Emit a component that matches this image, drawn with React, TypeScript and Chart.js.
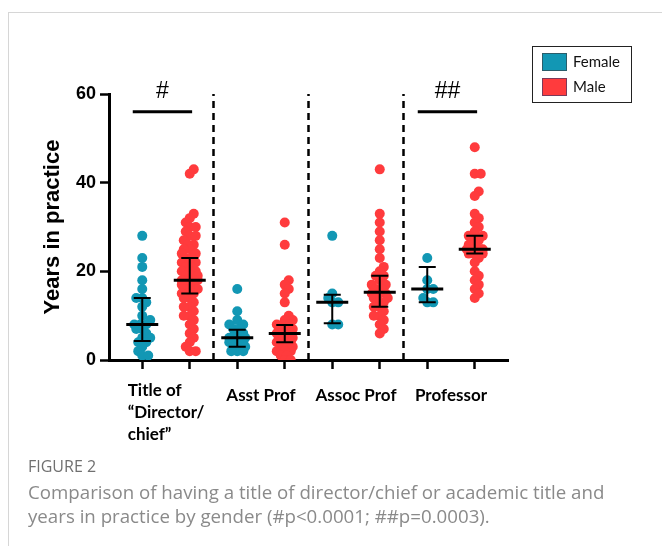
import React, { useEffect, useRef } from "react";
import { Chart, registerables } from "chart.js";

Chart.register(...registerables);

// ---------- data ----------
const categories: string[][] = [["Title of", "\u201cDirector/", "chief\u201d"], ["Asst Prof"], ["Assoc Prof"], ["Professor"]];
const seriesNames = ["Female", "Male"];

const femaleDirector = [28, 23, 21, 18, 16, 14, 14, 13, 12, 10, 9, 8, 8, 8, 7, 7, 6, 5, 5, 4, 4, 3, 2, 1, 1];
const maleDirector = [43, 42, 33, 32, 31, 30, 30, 29, 28, 28, 27, 26, 26, 25, 25, 24, 24, 23, 23, 22, 22, 22, 21, 21, 20, 20, 20, 19, 19, 19, 18, 18, 18, 18, 18, 17, 17, 17, 16, 16, 16, 15, 15, 15, 14, 14, 13, 12, 12, 11, 10, 10, 9, 8, 7, 6, 5, 4, 3, 2, 2];
const femaleAsst = [16, 11, 9, 8, 8, 7, 7, 6, 6, 5, 5, 5, 5, 4, 4, 4, 3, 3, 3, 2, 2, 2];
const maleAsst = [31, 26, 18, 17, 16, 15, 13, 10, 9, 9, 8, 8, 8, 7, 7, 7, 6, 6, 6, 6, 5, 5, 5, 5, 4, 4, 4, 4, 3, 3, 3, 2, 2, 2, 1, 1, 0, 0];
const femaleAssoc = [28, 15, 14, 13, 13, 8, 8];
const maleAssoc = [43, 33, 31, 29, 27, 25, 23, 21, 20, 19, 19, 18, 17, 17, 16, 16, 15, 15, 15, 14, 14, 13, 13, 12, 12, 11, 10, 10, 9, 8, 7, 6];
const femaleProf = [23, 18, 16, 16, 14, 13, 13];
const maleProf = [48, 42, 42, 38, 37, 33, 32, 31, 30, 29, 28, 28, 27, 27, 26, 26, 25, 25, 25, 25, 25, 24, 24, 24, 24, 23, 22, 20, 19, 18, 17, 16, 15, 14];

const femaleGroups = [femaleDirector, femaleAsst, femaleAssoc, femaleProf];
const maleGroups = [maleDirector, maleAsst, maleAssoc, maleProf];

// median and interquartile range per column (F, M, F, M, ...)
const medians = [8, 18, 5, 6, 13, 15.3, 16, 25];
const q1 = [4.3, 15, 3, 4, 8.3, 12, 13, 24];
const q3 = [14, 23, 6.8, 7.9, 14.7, 19, 21, 28];

const yTicks = [0, 20, 40, 60];
const separators = [1.5, 3.5, 5.5];
const sigStart = [-0.2, 5.8];
const sigEnd = [1.05, 7.05];
const sigLevel = [56, 56];
const sigLabels = ["#", "##"];

const FEMALE = "#1297b4";
const MALE = "#ff3b3d";

// deterministic beeswarm offsets (in x units) from the values
function swarm(values: number[]): number[] {
  const dotW = 0.21, dotH = 2.26, minD = 0.5, maxOff = 0.2;
  const order = values.map((_, i) => i).sort((a, b) => values[a] - values[b]);
  const placed: { x: number; y: number }[] = [];
  const out = new Array(values.length).fill(0);
  const step = dotW * 0.2;
  const cands = [0];
  for (let k = 1; k * step <= maxOff + 1e-9; k++) cands.push(k * step, -k * step);
  for (const i of order) {
    const yv = values[i];
    let best = 0, bestScore = -1;
    for (const c of cands) {
      let md = Infinity;
      for (const p of placed) {
        const d = Math.hypot((c - p.x) / dotW, (yv - p.y) / dotH);
        if (d < md) md = d;
      }
      if (md >= minD) { best = c; break; }
      if (md > bestScore) { bestScore = md; best = c; }
    }
    placed.push({ x: best, y: yv });
    out[i] = best;
  }
  return out;
}

function toPoints(groups: number[][], shift: number) {
  const pts: { x: number; y: number }[] = [];
  groups.forEach((vals, g) => {
    const offs = swarm(vals);
    vals.forEach((v, i) => pts.push({ x: g * 2 + shift + offs[i], y: v }));
  });
  return pts;
}

const overlay = {
  id: "overlay",
  afterDatasetsDraw(chart: any) {
    const { ctx } = chart;
    const x = chart.scales.x, y = chart.scales.y;
    ctx.save();
    ctx.strokeStyle = "#000";
    ctx.lineCap = "butt";
    for (let i = 0; i < medians.length; i++) {
      const px = x.getPixelForValue(i);
      const pm = y.getPixelForValue(medians[i]);
      const p1 = y.getPixelForValue(q1[i]);
      const p3 = y.getPixelForValue(q3[i]);
      ctx.lineWidth = 2;
      ctx.beginPath();
      ctx.moveTo(px, p1); ctx.lineTo(px, p3);
      ctx.moveTo(px - 8.5, p1); ctx.lineTo(px + 8.5, p1);
      ctx.moveTo(px - 8.5, p3); ctx.lineTo(px + 8.5, p3);
      ctx.stroke();
      ctx.lineWidth = 3;
      ctx.beginPath();
      ctx.moveTo(px - 16, pm); ctx.lineTo(px + 16, pm);
      ctx.stroke();
    }
    ctx.restore();
  },
  afterDraw(chart: any) {
    const { ctx, chartArea } = chart;
    const x = chart.scales.x, y = chart.scales.y;
    ctx.save();
    // category labels
    ctx.font = "bold 17px Lato";
    ctx.fillStyle = "#000";
    ctx.textAlign = "left";
    ctx.textBaseline = "middle";
    categories.forEach((lines, c) => {
      const center = x.getPixelForValue(c * 2 + 0.5);
      const widest = Math.max(...lines.map((l) => ctx.measureText(l).width));
      const left = center - widest / 2;
      const top = chartArea.bottom + (lines.length > 1 ? 31 : 36);
      lines.forEach((l, k) => ctx.fillText(l, left, top + k * 22));
    });
    // significance labels
    ctx.font = "23px 'Liberation Sans'";
    ctx.textAlign = "center";
    sigLabels.forEach((t, k) => {
      const cx = x.getPixelForValue((sigStart[k] + sigEnd[k]) / 2);
      ctx.fillText(t, cx, y.getPixelForValue(sigLevel[k]) - 20);
    });
    // legend
    ctx.lineWidth = 1;
    ctx.strokeStyle = "#222";
    ctx.strokeRect(532.5, 46.5, 99, 56);
    const colors = [FEMALE, MALE];
    const borders = ["#2a5d6a", "#7a3a5a"];
    ctx.font = "15px Lato";
    ctx.textAlign = "left";
    seriesNames.forEach((n, k) => {
      const top = 53 + k * 25;
      ctx.fillStyle = colors[k];
      ctx.fillRect(542, top, 25, 18);
      ctx.strokeStyle = borders[k];
      ctx.strokeRect(542.5, top + 0.5, 24, 17);
      ctx.fillStyle = "#111";
      ctx.fillText(n, 573, top + 9);
    });
    ctx.restore();
  },
};

export default function App() {
  const ref = useRef<HTMLCanvasElement | null>(null);
  useEffect(() => {
    if (!ref.current) return;
    const datasets: any[] = [
      {
        label: seriesNames[0],
        data: toPoints(femaleGroups, 0),
        backgroundColor: FEMALE,
        pointRadius: 5,
        pointBorderWidth: 0,
        order: 2,
      },
      {
        label: seriesNames[1],
        data: toPoints(maleGroups, 1),
        backgroundColor: MALE,
        pointRadius: 5,
        pointBorderWidth: 0,
        order: 2,
      },
      ...separators.map((s) => ({
        label: "sep",
        data: [{ x: s, y: yTicks[0] }, { x: s, y: yTicks[yTicks.length - 1] }],
        showLine: true,
        borderColor: "#000",
        borderWidth: 2.5,
        borderDash: [7, 5],
        pointRadius: 0,
        order: 1,
      })),
      ...sigStart.map((s, k) => ({
        label: "sig",
        data: [{ x: s, y: sigLevel[k] }, { x: sigEnd[k], y: sigLevel[k] }],
        showLine: true,
        borderColor: "#000",
        borderWidth: 3,
        pointRadius: 0,
        order: 1,
      })),
    ];
    const chart = new Chart(ref.current, {
      type: "scatter",
      data: { datasets },
      plugins: [overlay],
      options: {
        animation: false,
        responsive: false,
        devicePixelRatio: 1,
        layout: { padding: { left: 0, right: 154, top: 94, bottom: 0 } },
        plugins: { legend: { display: false }, tooltip: { enabled: false } },
        scales: {
          x: {
            type: "linear",
            min: -0.7,
            max: 7.7,
            afterBuildTicks: (axis: any) => {
              axis.ticks = medians.map((_, i) => ({ value: i }));
            },
            afterFit: (s: any) => { s.height = 186; },
            ticks: { callback: () => "", font: { size: 1 } },
            grid: { drawOnChartArea: false, tickLength: 9, tickWidth: 2.5, tickColor: "#000" },
            border: { display: true, width: 3, color: "#000" },
          },
          y: {
            min: 0,
            max: 60,
            afterBuildTicks: (axis: any) => {
              axis.ticks = yTicks.map((v) => ({ value: v }));
            },
            afterFit: (s: any) => { s.width = 109; },
            ticks: { color: "#000", padding: 4, font: { family: "'Liberation Sans'", size: 18, weight: "bold" } },
            grid: { drawOnChartArea: false, tickLength: 9, tickWidth: 2.5, tickColor: "#000" },
            border: { display: true, width: 3, color: "#000" },
            title: {
              display: true,
              text: "Years in practice",
              color: "#000",
              font: { family: "'Liberation Sans'", size: 22, weight: "bold" },
              padding: { top: 40, bottom: 0 },
            },
          },
        },
      } as any,
    });
    return () => chart.destroy();
  }, []);

  return (
    <div style={{ position: "absolute", left: 0, top: 0, width: 662, height: 546, overflow: "hidden", background: "#fff" }}>
      <div style={{ position: "absolute", left: 8, top: 12, width: 800, height: 800, borderLeft: "1.5px solid #d6d6d6", borderTop: "1.5px solid #d6d6d6" }} />
      <canvas ref={ref} width={662} height={546} style={{ position: "absolute", left: 0, top: 0 }} />
      <div style={{ position: "absolute", left: 28, top: 456, fontFamily: "'Open Sans'", fontSize: 16, color: "#707070", whiteSpace: "nowrap", lineHeight: "20px" }}>
        FIGURE 2
      </div>
      <div style={{ position: "absolute", left: 28, top: 480, fontFamily: "'Open Sans'", fontSize: 18.7, color: "#8a8a8a", whiteSpace: "nowrap", lineHeight: "24px" }}>
        Comparison of having a title of director/chief or academic title and
        <br />
        years in practice by gender (#p&lt;0.0001; ##p=0.0003).
      </div>
    </div>
  );
}
